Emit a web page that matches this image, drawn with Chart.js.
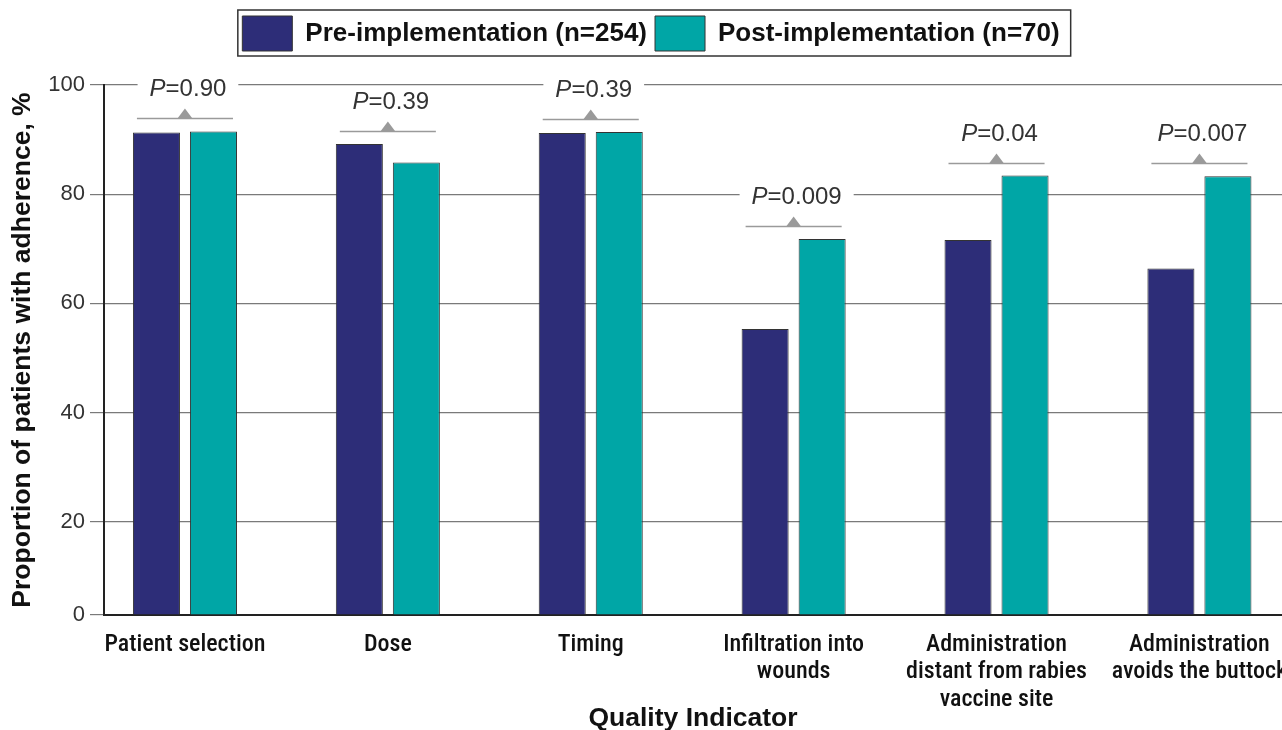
<!DOCTYPE html>
<html>
<head>
<meta charset="utf-8">
<script src="https://cdn.jsdelivr.net/npm/chart.js@4"></script>
<style>
  body { margin: 0; background: #fff; }
  #wrap { width: 1282px; height: 730px; }
</style>
</head>
<body>
<div id="wrap"><canvas id="adherenceChart"></canvas></div>
<script>
// data
const categories = [
  ["Patient selection"],
  ["Dose"],
  ["Timing"],
  ["Infiltration into", "wounds"],
  ["Administration", "distant from rabies", "vaccine site"],
  ["Administration", "avoids the buttock"]
];
const preValues = [91.3, 89.2, 91.2, 55.3, 71.6, 66.4];
const postValues = [91.5, 85.8, 91.4, 71.8, 83.4, 83.3];
const pValues = ["0.90", "0.39", "0.39", "0.009", "0.04", "0.007"];
const yTicks = [0, 20, 40, 60, 80, 100];
const seriesNames = ["Pre-implementation (n=254)", "Post-implementation (n=70)"];

// the printed axis starts a bit above zero (the "0" tick sits on the base line)
const Y_MIN = 2.9;
const NAVY = "#2D2D78";
const TEAL = "#00A6A6";

// P-values drawn above every pair of bars, with a bracket line and a small triangle
const pValuePlugin = {
  id: "pValues",
  afterDatasetsDraw(chart) {
    const ctx = chart.ctx;
    const yScale = chart.scales.y;
    const preBars = chart.getDatasetMeta(0).data;
    const postBars = chart.getDatasetMeta(1).data;

    pValues.forEach(function (p, i) {
      const a = preBars[i];
      const b = postBars[i];
      const left = a.x - a.width / 2 + 4;
      const right = b.x + b.width / 2 - 4;
      const mid = (a.x + b.x) / 2;
      const lineY = Math.round(yScale.getPixelForValue(Math.max(preValues[i], postValues[i]))) - 13 + 0.5;

      ctx.save();
      ctx.strokeStyle = "#9a9a9a";
      ctx.lineWidth = 1.5;
      ctx.beginPath();
      ctx.moveTo(left, lineY);
      ctx.lineTo(right, lineY);
      ctx.stroke();

      ctx.fillStyle = "#9a9a9a";
      ctx.beginPath();
      ctx.moveTo(mid - 7.5, lineY);
      ctx.lineTo(mid + 7.5, lineY);
      ctx.lineTo(mid, lineY - 10);
      ctx.closePath();
      ctx.fill();

      // text: italic P, then "=value"
      const textY = lineY - 29;
      ctx.font = 'italic 24px "Liberation Sans", Arial, sans-serif';
      const wP = ctx.measureText("P").width;
      ctx.font = '24px "Liberation Sans", Arial, sans-serif';
      const rest = "=" + p;
      const wRest = ctx.measureText(rest).width;
      const startX = mid - (wP + wRest) / 2 + 3;

      ctx.fillStyle = "#ffffff";
      ctx.fillRect(startX - 12, textY - 13, wP + wRest + 24, 26);

      ctx.fillStyle = "#333333";
      ctx.textBaseline = "middle";
      ctx.textAlign = "left";
      ctx.font = 'italic 24px "Liberation Sans", Arial, sans-serif';
      ctx.fillText("P", startX, textY);
      ctx.font = '24px "Liberation Sans", Arial, sans-serif';
      ctx.fillText(rest, startX + wP, textY);
      ctx.restore();
    });
  }
};

// frame round the legend
const legendFramePlugin = {
  id: "legendFrame",
  afterDraw(chart) {
    const boxes = chart.legend.legendHitBoxes;
    if (!boxes || !boxes.length) return;
    const first = boxes[0];
    const last = boxes[boxes.length - 1];
    const ctx = chart.ctx;
    ctx.save();
    ctx.strokeStyle = "#333333";
    ctx.lineWidth = 1.5;
    ctx.strokeRect(first.left - 4.5, first.top - 6, last.left + last.width + 11 - (first.left - 4.5), first.height + 11);
    ctx.restore();
  }
};

function toPoints(values) {
  return values.map(function (v, i) { return { x: i, y: v }; });
}

document.addEventListener("DOMContentLoaded", function () {
  const ctx = document.getElementById("adherenceChart").getContext("2d");

  new Chart(ctx, {
    type: "bar",
    data: {
      datasets: [
        {
          label: seriesNames[0],
          data: toPoints(preValues),
          backgroundColor: NAVY,
          borderColor: "#333333",
          borderWidth: 1,
          base: Y_MIN
        },
        {
          label: seriesNames[1],
          data: toPoints(postValues),
          backgroundColor: TEAL,
          borderColor: "#333333",
          borderWidth: 1,
          base: Y_MIN
        }
      ]
    },
    options: {
      responsive: true,
      maintainAspectRatio: false,
      animation: false,
      // left padding moves the legend a little right, the y axis width makes up for it
      layout: { padding: { top: 8, left: 20, right: 0, bottom: 0 } },
      datasets: {
        bar: { categoryPercentage: 0.562, barPercentage: 0.825 }
      },
      plugins: {
        tooltip: { enabled: false },
        legend: {
          position: "top",
          labels: {
            boxWidth: 50,
            boxHeight: 35,
            padding: 8,
            color: "#111111",
            font: { family: '"Liberation Sans", Arial, sans-serif', size: 26, weight: "bold" }
          }
        },
        // empty title only used as a spacer between legend and plot
        title: {
          display: true,
          text: "",
          weight: 500,
          font: { size: 1, lineHeight: 1 },
          padding: { top: 0, bottom: 23 }
        }
      },
      scales: {
        x: {
          type: "linear",
          min: -0.399,
          max: 5.407,
          offset: false,
          grid: { display: false, drawTicks: false },
          border: { display: true, color: "#222222", width: 2 },
          afterBuildTicks: function (scale) {
            scale.ticks = categories.map(function (_, i) { return { value: i }; });
          },
          afterFit: function (scale) {
            scale.height = 115;
            scale.paddingLeft = 0;
            scale.paddingRight = 0;
          },
          ticks: {
            autoSkip: false,
            maxRotation: 0,
            minRotation: 0,
            padding: 16,
            color: "#111111",
            font: { family: '"Liberation Sans Narrow", "Roboto Condensed", "DejaVu Sans Condensed", sans-serif', size: 24, weight: 500, lineHeight: 1.15 },
            callback: function (value) { return categories[value]; }
          },
          title: {
            display: true,
            text: "Quality Indicator",
            color: "#111111",
            font: { family: '"Liberation Sans", Arial, sans-serif', size: 26.5, weight: "bold", lineHeight: 1 },
            padding: { top: 0, bottom: -2 }
          }
        },
        y: {
          min: Y_MIN,
          max: 100,
          grid: { color: "#7a7a7a", lineWidth: 1.2, tickLength: 14 },
          border: { display: true, color: "#222222", width: 2 },
          afterBuildTicks: function (scale) {
            scale.ticks = yTicks.map(function (v) { return { value: Math.max(v, Y_MIN) }; });
          },
          afterFit: function (scale) {
            scale.width = 84;
          },
          ticks: {
            padding: 5,
            color: "#333333",
            font: { family: '"Liberation Sans", Arial, sans-serif', size: 22 },
            callback: function (value, index) { return yTicks[index]; }
          },
          title: {
            display: true,
            text: "Proportion of patients with adherence, %",
            color: "#111111",
            font: { family: '"Liberation Sans", Arial, sans-serif', size: 26.5, weight: "bold", lineHeight: 1 },
            padding: { top: -11, bottom: 0 }
          }
        }
      }
    },
    plugins: [pValuePlugin, legendFramePlugin]
  });
});
</script>
</body>
</html>
